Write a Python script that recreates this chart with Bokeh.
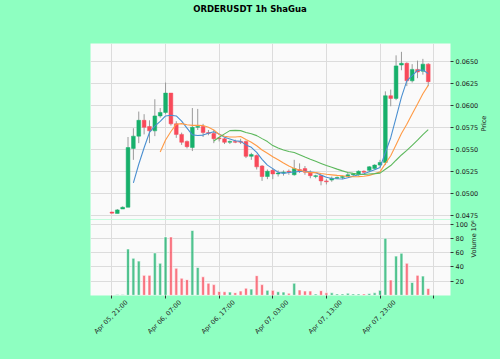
import numpy as np
import pandas as pd
from math import pi
from bokeh.plotting import figure
from bokeh.layouts import column
from bokeh.models import Range1d, FixedTicker, ColumnDataSource, PrintfTickFormatter, Div
from bokeh.embed import file_html
from bokeh.resources import INLINE

# ---- data ----
opens = [0.04785, 0.0477, 0.0482, 0.0484, 0.0551, 0.0565, 0.0583, 0.0576, 0.0571, 0.0588,
         0.0592, 0.0614, 0.0579, 0.0567, 0.0559, 0.0552, 0.0575, 0.0576, 0.0569, 0.0568,
         0.0563, 0.0562, 0.0558, 0.0559, 0.0559, 0.0559, 0.0542, 0.0543, 0.0531, 0.0519,
         0.0526, 0.0522, 0.0523, 0.0525, 0.0521, 0.0527, 0.0528, 0.0524, 0.0519, 0.0520,
         0.0514, 0.0515, 0.0517, 0.0518, 0.0519, 0.0521, 0.0521, 0.0525, 0.0526, 0.0528,
         0.0532, 0.0535, 0.0611, 0.0608, 0.0646, 0.0648, 0.0628, 0.0641, 0.0639, 0.0647]
highs = [0.04788, 0.0482, 0.0485, 0.0564, 0.0574, 0.0593, 0.0590, 0.0583, 0.0607, 0.0597,
         0.0626, 0.0614, 0.0582, 0.0569, 0.0560, 0.0597, 0.0596, 0.0579, 0.0572, 0.0572,
         0.0564, 0.0563, 0.0560, 0.0561, 0.0562, 0.0560, 0.0546, 0.0544, 0.0532, 0.0527,
         0.0528, 0.0526, 0.0526, 0.0527, 0.0538, 0.0534, 0.0531, 0.0526, 0.0521, 0.0521,
         0.0516, 0.0519, 0.0519, 0.0520, 0.0523, 0.0523, 0.0526, 0.0526, 0.0531, 0.0533,
         0.0538, 0.0616, 0.0618, 0.0657, 0.0661, 0.0649, 0.0647, 0.0651, 0.0653, 0.0648]
lows = [0.0477, 0.0477, 0.0482, 0.0484, 0.0538, 0.0557, 0.0567, 0.0557, 0.0565, 0.0586,
        0.0590, 0.0577, 0.0563, 0.0555, 0.0551, 0.0548, 0.0572, 0.0564, 0.0566, 0.0557,
        0.0559, 0.0556, 0.0556, 0.0557, 0.0556, 0.0540, 0.0538, 0.0527, 0.0514, 0.0516,
        0.0516, 0.0519, 0.0520, 0.0521, 0.0520, 0.0523, 0.0521, 0.0517, 0.0517, 0.0509,
        0.0510, 0.0513, 0.0516, 0.0516, 0.0518, 0.0519, 0.0520, 0.0523, 0.0524, 0.0527,
        0.0530, 0.0532, 0.0599, 0.0606, 0.0640, 0.0622, 0.0626, 0.0631, 0.0635, 0.0622]
closes = [0.04773, 0.0481, 0.0484, 0.0552, 0.0565, 0.0583, 0.0575, 0.0571, 0.0588, 0.0592,
          0.0614, 0.0579, 0.0567, 0.0558, 0.0553, 0.0575, 0.0576, 0.0569, 0.0568, 0.0562,
          0.0562, 0.0558, 0.0559, 0.0558, 0.0558, 0.0542, 0.0544, 0.0530, 0.0519, 0.0525,
          0.0522, 0.0523, 0.0524, 0.0524, 0.0528, 0.0525, 0.0524, 0.0520, 0.0520, 0.0514,
          0.0513, 0.0517, 0.0518, 0.0519, 0.0521, 0.0522, 0.0525, 0.0524, 0.0530, 0.0532,
          0.0535, 0.0611, 0.0608, 0.0645, 0.0648, 0.0628, 0.0641, 0.0638, 0.0647, 0.0627]
volumes = [0.5, 1.0, 1.0, 65, 52, 48, 28, 28, 59.5, 45,
           82, 82, 38, 24, 22, 91, 39, 26, 17, 15,
           5.5, 5, 4.5, 3.7, 6, 10, 8.7, 27.6, 15, 7,
           7, 5, 4.5, 3, 17, 7.5, 6, 6, 2, 6.5,
           3.5, 3.5, 2, 2, 3, 2, 2, 2, 2.5, 3.5,
           7, 80, 21.5, 55, 59, 45, 18, 28, 27, 9.5]
tick_pos = [0, 10, 20, 30, 40, 50, 60]
tick_labels = ["Apr 05, 21:00", "Apr 06, 07:00", "Apr 06, 17:00", "Apr 07, 03:00",
               "Apr 07, 13:00", "Apr 07, 23:00", ""]
price_ticks = [0.0475, 0.0500, 0.0525, 0.0550, 0.0575, 0.0600, 0.0625, 0.0650]
vol_ticks = [20, 40, 60, 80, 100]
ma_windows = [5, 10, 20]
ma_colors = ["#4a8fd0", "#ff9a45", "#5cb85c"]
title_text = "ORDERUSDT 1h ShaGua"

UP, DOWN = "#17b06b", "#f84a5a"
BG = "#8effc1"
GRID = "#dcdcdc"
FONT = "DejaVu Sans"
FS = "6.5px"

n = len(closes)
idx = list(range(n))
up = [c >= o for o, c in zip(opens, closes)]
df = pd.DataFrame(dict(x=idx, o=opens, h=highs, l=lows, c=closes, v=volumes))
df["top"] = df[["o", "c"]].max(axis=1)
df["bot"] = df[["o", "c"]].min(axis=1)
df["color"] = [UP if u else DOWN for u in up]
src = ColumnDataSource(df)

xr = Range1d(-4.0, 63.15)

def style(p):
    p.background_fill_color = "#fafafa"
    p.border_fill_color = BG
    p.outline_line_color = None
    p.xgrid.ticker = FixedTicker(ticks=tick_pos)
    p.grid.grid_line_color = GRID
    p.grid.grid_line_width = 1
    for ax in p.yaxis:
        ax.axis_line_color = None
        ax.major_tick_line_color = "#333333"
        ax.major_tick_in = 0
        ax.major_tick_out = 3
        ax.minor_tick_line_color = None
        ax.major_label_text_font = FONT
        ax.major_label_text_font_size = FS
        ax.major_label_text_color = "#222222"
        ax.major_label_standoff = 2
        ax.axis_label_text_font = FONT
        ax.axis_label_text_font_size = FS
        ax.axis_label_text_font_style = "normal"
        ax.axis_label_text_color = "#222222"
        ax.axis_label_standoff = 3
        ax.axis_label_orientation = pi / 2

# ---- title ----
TITLE_H = 14
title = Div(text='<div style="width:500px;text-align:center;font-family:\'DejaVu Sans\';'
                 'font-size:8.5px;font-weight:bold;color:#000;line-height:%dpx;">%s</div>'
                 % (TITLE_H, title_text),
            width=500, height=TITLE_H, margin=(0, 0, 0, 0))

# ---- price panel ----
p1 = figure(width=500, height=219 - TITLE_H, x_range=xr, y_range=Range1d(0.047005, 0.067050),
            y_axis_location="right", output_backend="svg", toolbar_location=None,
            min_border_left=90, min_border_right=50, min_border_top=43 - TITLE_H,
            min_border_bottom=0)
style(p1)
p1.xaxis.visible = False
p1.yaxis.ticker = FixedTicker(ticks=price_ticks)
p1.yaxis.formatter = PrintfTickFormatter(format="%.4f")
p1.yaxis.axis_label = "Price"
p1.segment("x", "h", "x", "l", source=src, color="#9a9a9a", line_width=1)
p1.vbar("x", 0.7, "top", "bot", source=src, fill_color="color", line_color="color", line_width=0.5)
s = pd.Series(closes)
for w, col in zip(ma_windows, ma_colors):
    ma = s.rolling(w).mean()
    m = ~ma.isna()
    p1.line([i for i, k in zip(idx, m) if k], list(ma[m]), color=col, line_width=1.1)

# ---- volume panel ----
p2 = figure(width=500, height=140, x_range=xr, y_range=Range1d(-0.28, 106.4),
            y_axis_location="right", output_backend="svg", toolbar_location=None,
            min_border_left=90, min_border_right=50, min_border_top=0, min_border_bottom=64)
style(p2)
p2.yaxis.ticker = FixedTicker(ticks=vol_ticks)
p2.yaxis.axis_label = "Volume  10\u2076"
p2.vbar("x", 0.55, "v", 0, source=src, fill_color="color", line_color="white",
        line_width=0.6, fill_alpha=0.75)
shift = 2.75
xa = p2.xaxis[0]
xa.ticker = FixedTicker(ticks=[t + shift for t in tick_pos], minor_ticks=tick_pos)
xa.major_label_overrides = {t + shift: l for t, l in zip(tick_pos, tick_labels)}
xa.major_label_orientation = pi / 4
xa.axis_line_color = None
xa.major_tick_line_color = None
xa.major_tick_in = 0
xa.major_tick_out = 0
xa.minor_tick_line_color = "#333333"
xa.minor_tick_in = 0
xa.minor_tick_out = 3
xa.major_label_standoff = 3
xa.major_label_text_font = FONT
xa.major_label_text_font_size = FS
xa.major_label_text_color = "#222222"

layout = column(title, p1, p2, spacing=0)
html = file_html(layout, INLINE)
html = html.replace("<head>", "<head><style>body{background:%s;}</style>" % BG, 1)
open("out.html", "w").write(html)
